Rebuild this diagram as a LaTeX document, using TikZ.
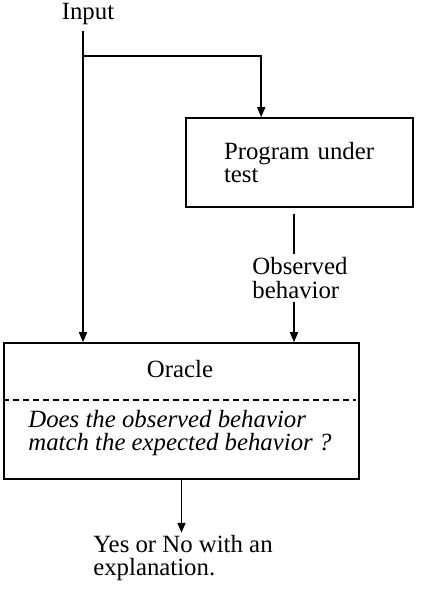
\documentclass[tikz,border=0pt]{standalone}
\usepackage{fontspec}
\setmainfont{Liberation Serif}
\usetikzlibrary{positioning,calc,arrows.meta}

\begin{document}
\begin{tikzpicture}[
	x=0.5pt, y=-0.5pt,
	font=\fontsize{12.4}{11.6}\selectfont,
	box/.style={rectangle, draw, line width=0.8pt, inner sep=0pt},
	arr/.style={-{Triangle[length=5pt,width=4pt]}, line width=0.8pt},
	txt/.style={align=left, inner sep=1pt}
	]
	\useasboundingbox (0,0) rectangle (438,596);
	\node[txt] (input) at (88,14) {Input};
	\coordinate (top) at (83,31);
	\coordinate (split) at (83,56);
	\node[box, minimum width=113.5pt, minimum height=44.5pt, text width=75.5pt, align=left] (prog) at (299.5,162.5) {Program under\\test};
	\node[box, minimum width=177.5pt, minimum height=68pt] (oracle) at (181.5,411) {};
	\node (otitle) at (180,369) {Oracle};
	\coordinate (sep) at (0,400);
	\draw[dash pattern=on 3pt off 2pt, line width=0.6pt] (oracle.west |- sep) -- ([xshift=-2pt]oracle.east |- sep);
	\node[txt, font=\fontsize{12.4}{11.6}\selectfont\itshape, anchor=west] (question) at (26,433) {Does the observed behavior\\match the expected behavior ?};
	\node[txt] (result) at (183,558) {Yes or No with an\\explanation.};

	\draw[arr] (top) -- (top |- oracle.north);
	\draw[arr] (split) -| ($(prog.north west)+(76,0)$);
	\coordinate (obs) at ($(prog.south)+(-5.5,6)$);
	\draw[arr] (obs) -- node[txt, inner xsep=0pt, inner ysep=2pt, fill=white, xshift=3pt] {Observed\\behavior} (obs |- oracle.north);
	\draw[arr] (oracle.south) -- (oracle.south |- result.north);
\end{tikzpicture}
\end{document}
